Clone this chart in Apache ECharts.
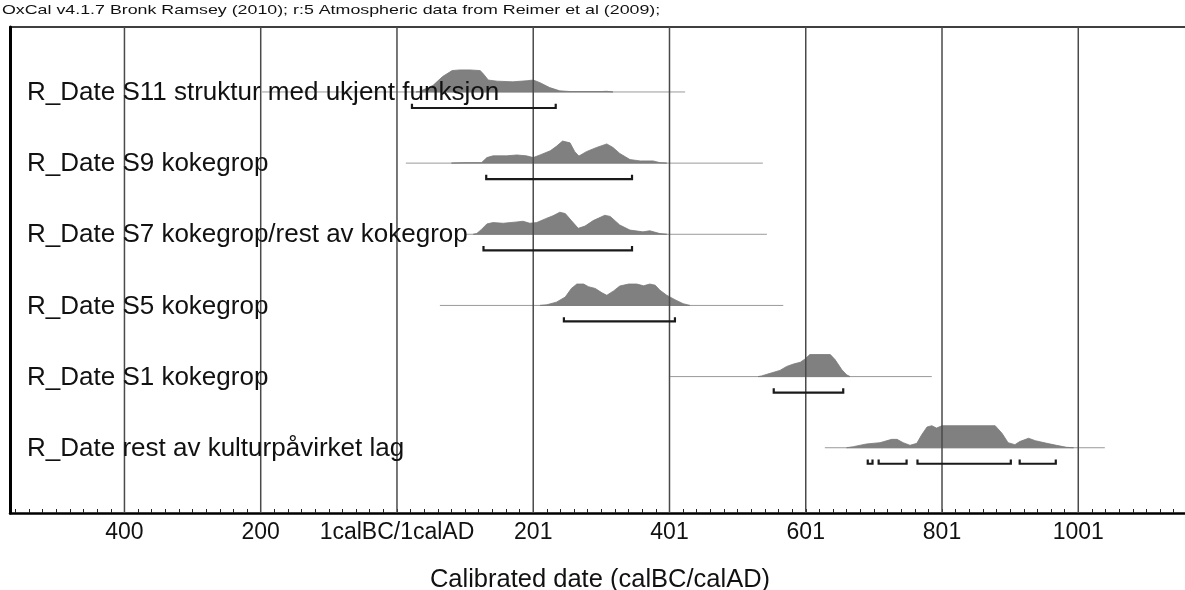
<!DOCTYPE html>
<html lang="en">
<head>
<meta charset="UTF-8">
<script src="https://cdn.jsdelivr.net/npm/echarts@6/dist/echarts.min.js"></script>
<title>OxCal multiplot</title>
<style>
    html, body { margin: 0; padding: 0; background: #fff; }
    #chart { width: 1185px; height: 590px; }
</style>
</head>
<body>
<div id="chart"></div>
<script>
// x values: years from the 1calBC/1calAD boundary (negative = BC, 200 = 201 AD)
var rowNames = [
    'R_Date S11 struktur med ukjent funksjon',
    'R_Date S9 kokegrop',
    'R_Date S7 kokegrop/rest av kokegrop',
    'R_Date S5 kokegrop',
    'R_Date S1 kokegrop',
    'R_Date rest av kulturpåvirket lag'
];
// relative probability [year, height 0..1]
var s11Prob = [[28,0],[34,0.03],[53,0.3],[67,0.7],[81,0.97],[92,1.0],[107,1.0],[122,0.97],[126,0.85],[134,0.54],[147,0.49],[170,0.46],[191,0.51],[200,0.54],[210,0.42],[224,0.2],[239,0.05],[254,0.02],[300,0.02],[308,0.03],[317,0]];
var s9Prob = [[80,0],[100,0.02],[124,0.02],[132,0.25],[141,0.33],[161,0.33],[176,0.37],[190,0.33],[200,0.25],[210,0.37],[225,0.56],[234,0.76],[243,1.0],[254,0.92],[261,0.52],[267,0.32],[278,0.52],[293,0.71],[308,0.87],[317,0.71],[327,0.44],[342,0.16],[357,0.1],[376,0.1],[386,0.02],[396,0]];
var s7Prob = [[112,0],[117,0.03],[124,0.22],[132,0.47],[141,0.53],[156,0.5],[176,0.56],[185,0.59],[195,0.5],[205,0.53],[220,0.73],[229,0.84],[239,1.0],[247,0.94],[256,0.62],[266,0.27],[276,0.37],[288,0.62],[305,0.86],[313,0.81],[327,0.42],[342,0.19],[361,0.11],[371,0.16],[386,0.03],[396,0]];
var s5Prob = [[210,0],[220,0.03],[234,0.15],[247,0.38],[256,0.77],[264,0.97],[274,0.97],[281,0.85],[291,0.77],[301,0.57],[308,0.46],[318,0.66],[327,0.88],[340,0.97],[352,0.97],[362,0.89],[371,0.97],[379,0.92],[386,0.69],[396,0.46],[408,0.26],[420,0.08],[430,0]];
var s1Prob = [[530,0],[535,0.03],[548,0.15],[562,0.28],[572,0.46],[582,0.57],[592,0.65],[599,0.8],[606,1.0],[636,1.0],[643,0.77],[653,0.31],[660,0.08],[665,0]];
var lagProb = [[660,0],[670,0.05],[689,0.17],[709,0.23],[726,0.38],[734,0.38],[743,0.23],[753,0.11],[763,0.2],[770,0.58],[778,0.94],[785,1.0],[792,0.89],[800,1.0],[841,1.0],[878,1.0],[888,0.66],[897,0.23],[907,0.14],[914,0.28],[927,0.43],[937,0.32],[954,0.2],[968,0.11],[983,0.02],[993,0]];
var probs = [s11Prob, s9Prob, s7Prob, s5Prob, s1Prob, lagProb];
// extent of the thin base line per row
var lineSpans = [[-198,423],[13,537],[101,543],[63,567],[401,785],[628,1039]];
// 95.4% ranges per row
var ranges95 = [
    [[22,233]],
    [[131,345]],
    [[127,345]],
    [[245,408]],
    [[553,655]],
    [[691,698],[707,748],[764,901],[914,967]]
];
var majorTicks = [-400,-200,0,200,400,600,800,1000];
var titleText = 'OxCal v4.1.7 Bronk Ramsey (2010); r:5 Atmospheric data from Reimer et al (2009);';

var xMin = -568, xMax = 1164;
var yMax = 6.83;
var rowOffset = 0.913;   // baseline of row k sits at k + rowOffset
var peak = 0.31;         // height of a full peak in row units
var bracketGap = 0.225;
var capLen = 0.06;

var minorTicks = [];
for (var t = -560; t <= xMax; t += 20) minorTicks.push(t);

var bracketData = [];
ranges95.forEach(function (list, k) {
    list.forEach(function (r) { bracketData.push([r[0], r[1], k]); });
});

var font = '"Liberation Sans", Arial, sans-serif';

var chart = echarts.init(document.getElementById('chart'));
var option = {
    animation: false,
    backgroundColor: '#fff',
    graphic: [{
        type: 'text',
        left: 2,
        top: 4,
        scaleX: 1.37,
        style: { text: titleText, font: '13px ' + font, fill: '#111' }
    }],
    grid: { left: 10, top: 27, width: 1180, height: 486, outerBoundsMode: 'none' },
    xAxis: [{
        type: 'value',
        min: xMin,
        max: xMax,
        position: 'bottom',
        axisLine: { onZero: false, lineStyle: { color: '#000', width: 2.5 } },
        axisTick: { show: true, inside: true, length: 4, customValues: minorTicks, lineStyle: { color: '#222', width: 1 } },
        axisLabel: {
            customValues: majorTicks,
            fontFamily: font, fontSize: 23, color: '#111', margin: 8,
            formatter: function (v) {
                if (v < 0) return String(-v);
                if (v === 0) return '1calBC/1calAD';
                return String(v + 1);
            }
        },
        splitLine: { show: false },
        name: 'Calibrated date (calBC/calAD)',
        nameLocation: 'middle',
        nameGap: 54,
        nameTextStyle: { fontFamily: font, fontSize: 25.5, color: '#111' }
    }, {
        type: 'value',
        min: xMin,
        max: xMax,
        position: 'top',
        axisLine: { onZero: false, lineStyle: { color: '#000', width: 1.5 } },
        axisTick: { show: false },
        axisLabel: { show: false },
        splitLine: { show: false }
    }],
    yAxis: {
        type: 'value',
        inverse: true,
        min: 0,
        max: yMax,
        axisLine: { show: true, onZero: false, lineStyle: { color: '#000', width: 3 } },
        axisTick: { show: false },
        axisLabel: { show: false },
        splitLine: { show: false }
    },
    series: [{
        // probability distributions + base lines
        type: 'custom',
        z: 2,
        silent: true,
        data: rowNames.map(function (n, i) { return [i]; }),
        renderItem: function (params, api) {
            var k = params.dataIndex;
            var base = k + rowOffset;
            var pts = probs[k].map(function (p) { return api.coord([p[0], base - p[1] * peak]); });
            var span = lineSpans[k];
            var a = api.coord([span[0], base]);
            var b = api.coord([span[1], base]);
            return {
                type: 'group',
                children: [{
                    type: 'line',
                    shape: { x1: a[0], y1: a[1], x2: b[0], y2: b[1] },
                    style: { stroke: '#9a9a9a', lineWidth: 1 }
                }, {
                    type: 'polygon',
                    shape: { points: pts },
                    style: { fill: '#808080', stroke: '#7a7a7a', lineWidth: 0.8 }
                }]
            };
        }
    }, {
        // vertical grid lines at labelled ticks
        type: 'custom',
        z: 3,
        silent: true,
        data: majorTicks.map(function (v) { return [v]; }),
        renderItem: function (params, api) {
            var v = api.value(0);
            var a = api.coord([v, 0]);
            var b = api.coord([v, yMax]);
            return {
                type: 'line',
                shape: { x1: a[0], y1: a[1], x2: b[0], y2: b[1] },
                style: { stroke: '#4a4a4a', lineWidth: 1.5 }
            };
        }
    }, {
        // 95.4% range brackets
        type: 'custom',
        z: 4,
        silent: true,
        data: bracketData,
        renderItem: function (params, api) {
            var k = api.value(2);
            var y = k + rowOffset + bracketGap;
            var p0 = api.coord([api.value(0), y - capLen]);
            var p1 = api.coord([api.value(0), y]);
            var p2 = api.coord([api.value(1), y]);
            var p3 = api.coord([api.value(1), y - capLen]);
            return {
                type: 'polyline',
                shape: { points: [p0, p1, p2, p3] },
                style: { stroke: '#1a1a1a', lineWidth: 2.2, fill: null }
            };
        }
    }, {
        // row names
        type: 'custom',
        z: 5,
        silent: true,
        data: rowNames.map(function (n, i) { return [i]; }),
        renderItem: function (params, api) {
            var k = params.dataIndex;
            var p = api.coord([xMin, k + rowOffset]);
            return {
                type: 'text',
                x: p[0] + 17,
                y: p[1] + 1,
                style: {
                    text: rowNames[k],
                    font: '26px ' + font,
                    fill: '#111',
                    verticalAlign: 'middle'
                }
            };
        }
    }]
};
chart.setOption(option);
window.onresize = chart.resize;
</script>
</body>
</html>
